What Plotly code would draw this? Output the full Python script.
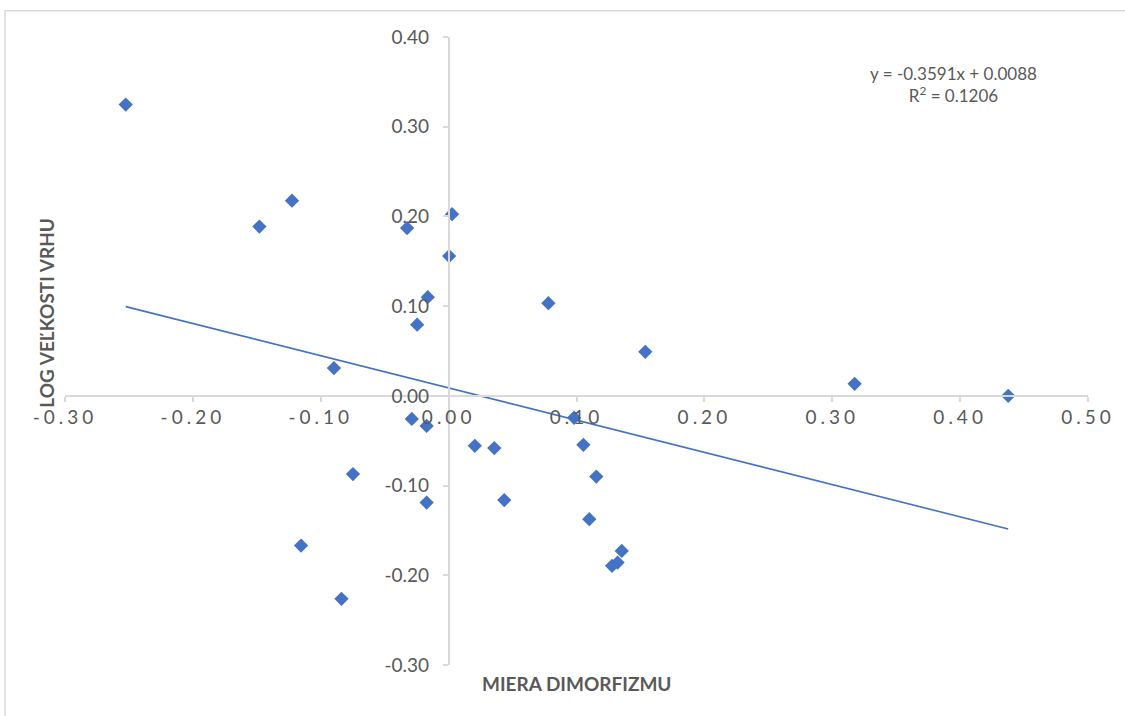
import plotly.graph_objects as go

# Sexual size dimorphism vs. log litter size
dimorphism = [-0.2525, -0.1225, -0.1480, -0.0325, 0.0027, 0.0004, -0.0163, -0.0246,
              0.0780, -0.0897, 0.3175, 0.4376, -0.0288, -0.0172, 0.0205, 0.0357,
              0.0981, 0.1054, 0.1155, -0.0748, -0.0172, 0.0435, 0.1100, 0.1354,
              0.1321, 0.1278, -0.1154, -0.0838, 0.1538]
log_litter = [0.3247, 0.2176, 0.1887, 0.1870, 0.2025, 0.1558, 0.1100, 0.0793,
              0.1033, 0.0310, 0.0134, 0.0000, -0.0257, -0.0335, -0.0557, -0.0582,
              -0.0244, -0.0546, -0.0900, -0.0872, -0.1190, -0.1162, -0.1375, -0.1728,
              -0.1858, -0.1895, -0.1669, -0.2262, 0.0491]

# Linear trend line coefficients
slope = -0.3591
intercept = 0.0088
r_squared = 0.1206

x_ticks = [-0.30, -0.20, -0.10, 0.00, 0.10, 0.20, 0.30, 0.40, 0.50]
y_ticks = [-0.30, -0.20, -0.10, 0.00, 0.10, 0.20, 0.30, 0.40]
x_title = "MIERA DIMORFIZMU"
y_title = "LOG VEĽKOSTI VRHU"

X_RANGE = [-0.30, 0.50]
Y_RANGE = [-0.30, 0.40]

BLUE = "#4472C4"
AXIS = "#D9D9D9"
TEXT = "#595959"
FONT = "Lato"

trend_x = [min(dimorphism), max(dimorphism)]
trend_y = [slope * v + intercept for v in trend_x]

fig = go.Figure()
fig.add_trace(go.Scatter(
    x=dimorphism, y=log_litter, mode="markers",
    marker=dict(symbol="diamond", size=11, color=BLUE, line=dict(width=0)),
    showlegend=False, hoverinfo="x+y",
))
fig.add_trace(go.Scatter(
    x=trend_x, y=trend_y, mode="lines",
    line=dict(color=BLUE, width=1.6),
    showlegend=False, hoverinfo="skip",
))

# axes cross at the origin
x_pos = (0 - Y_RANGE[0]) / (Y_RANGE[1] - Y_RANGE[0])
y_pos = (0 - X_RANGE[0]) / (X_RANGE[1] - X_RANGE[0])

fig.update_layout(
    width=1125, height=716,
    margin=dict(l=65, r=37, t=37, b=51),
    paper_bgcolor="white", plot_bgcolor="white",
    font=dict(family=FONT, color=TEXT),
    xaxis=dict(
        range=X_RANGE, tickvals=x_ticks,
        ticktext=[f"{v:.2f}" for v in x_ticks],
        anchor="free", position=x_pos,
        showline=True, linecolor=AXIS, linewidth=1.5,
        ticks="outside", ticklen=5, tickwidth=1.5, tickcolor=AXIS,
        showgrid=False, zeroline=False,
        tickfont=dict(family=FONT, size=19, color=TEXT),
    ),
    yaxis=dict(
        range=Y_RANGE, tickvals=y_ticks,
        ticktext=[f"{v:.2f}" for v in y_ticks],
        anchor="free", position=y_pos,
        showline=True, linecolor=AXIS, linewidth=1.5,
        ticks="outside", ticklen=5, tickwidth=1.5, tickcolor=AXIS,
        ticklabelstandoff=10,
        showgrid=False, zeroline=False,
        tickfont=dict(family=FONT, size=19, color=TEXT),
    ),
    shapes=[dict(
        type="rect", xref="paper", yref="paper",
        x0=-0.0587, x1=1.2, y0=-0.3, y1=1.0417,
        line=dict(color=AXIS, width=1.5), fillcolor="rgba(0,0,0,0)",
        layer="below",
    )],
    annotations=[
        dict(text=x_title, xref="paper", yref="paper", x=0.5, y=-0.0296,
             showarrow=False, font=dict(family=FONT, size=19, color=TEXT, weight="bold"),
             xanchor="center", yanchor="middle"),
        dict(text=y_title, xref="paper", yref="paper", x=-0.0176, y=0.561,
             showarrow=False, textangle=-90,
             font=dict(family=FONT, size=19, color=TEXT, weight="bold"),
             xanchor="center", yanchor="middle"),
        dict(text=f"y = {slope:.4f}x + {intercept:.4f}<br>R<sup>2</sup> = {r_squared:.4f}",
             xref="x", yref="y", x=0.3947, y=0.3469, showarrow=False, align="center",
             font=dict(family=FONT, size=17, color=TEXT),
             xanchor="center", yanchor="middle"),
    ],
)

# wide letter spacing on the horizontal tick labels
spacing_js = (
    "var s=document.createElement('style');"
    "s.textContent='.xtick text{letter-spacing:4px;}';"
    "document.head.appendChild(s);"
)
fig.write_html("out.html", post_script=spacing_js)
